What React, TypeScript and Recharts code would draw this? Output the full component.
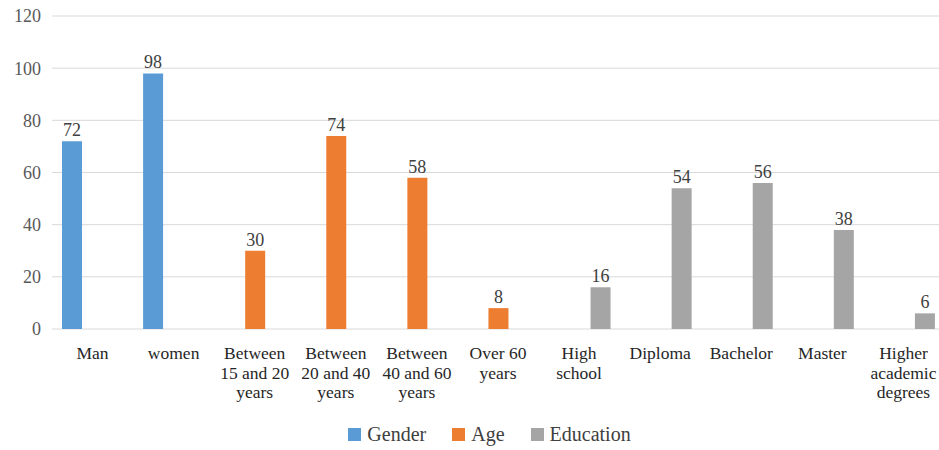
import React from 'react';
import { BarChart, Bar, XAxis, YAxis, CartesianGrid, Legend, LabelList } from 'recharts';

const categories = [
  'Man',
  'women',
  'Between\n15 and 20\nyears',
  'Between\n20 and 40\nyears',
  'Between\n40 and 60\nyears',
  'Over 60\nyears',
  'High\nschool',
  'Diploma',
  'Bachelor',
  'Master',
  'Higher\nacademic\ndegrees',
];
const gender = [72, 98, null, null, null, null, null, null, null, null, null];
const age = [null, null, 30, 74, 58, 8, null, null, null, null, null];
const education = [null, null, null, null, null, null, 16, 54, 56, 38, 6];
const yTicks = [0, 20, 40, 60, 80, 100, 120];

const series = [
  { key: 'gender', name: 'Gender', color: '#5b9bd5' },
  { key: 'age', name: 'Age', color: '#ed7d31' },
  { key: 'education', name: 'Education', color: '#a5a5a5' },
];

const data = categories.map((c, i) => ({
  category: c,
  gender: gender[i],
  age: age[i],
  education: education[i],
}));

const FONT = 'Liberation Serif, Times New Roman, serif';

const CategoryTick = (props: any) => {
  const { x, y, payload } = props;
  const lines = String(payload.value).split('\n');
  return (
    <g transform={`translate(${x},${y})`}>
      <text textAnchor="middle" fill="#262626" style={{ fontFamily: FONT, fontSize: 17.5 }}>
        {lines.map((l, i) => (
          <tspan key={i} x={0} dy={i === 0 ? 28 : 19.5}>
            {l}
          </tspan>
        ))}
      </text>
    </g>
  );
};

const LegendContent = () => (
  <div
    style={{
      height: 31,
      display: 'flex',
      justifyContent: 'center',
      alignItems: 'center',
      paddingLeft: 35,
      fontFamily: FONT,
      fontSize: 20,
      color: '#404040',
    }}
  >
    {series.map((s) => (
      <div key={s.key} style={{ display: 'flex', alignItems: 'center', margin: '0 13px' }}>
        <span style={{ width: 13, height: 13, background: s.color, marginRight: 6, display: 'inline-block' }} />
        <span>{s.name}</span>
      </div>
    ))}
  </div>
);

export default function App() {
  return (
    <div
      style={{
        position: 'absolute',
        left: 0,
        top: 0,
        width: 939,
        height: 450,
        overflow: 'hidden',
        background: '#fff',
        fontFamily: FONT,
      }}
    >
      <BarChart
        width={944}
        height={450}
        data={data}
        margin={{ top: 16, right: 0, left: 0, bottom: 0 }}
        barSize={20}
        barGap={1}
        style={{ fontFamily: FONT }}
      >
        <CartesianGrid vertical={false} stroke="#d9d9d9" strokeWidth={1} />
        <XAxis
          dataKey="category"
          axisLine={false}
          tickLine={false}
          tickSize={0}
          interval={0}
          height={90}
          tick={<CategoryTick />}
        />
        <YAxis
          width={52}
          domain={[0, 120]}
          ticks={yTicks}
          axisLine={false}
          tickLine={false}
          tickSize={0}
          tickMargin={11}
          tick={{ fill: '#595959', fontSize: 18, style: { fontFamily: FONT } }}
        />
        <Legend verticalAlign="bottom" content={<LegendContent />} wrapperStyle={{ left: 0, width: 944 }} />
        {series.map((s) => (
          <Bar key={s.key} dataKey={s.key} name={s.name} fill={s.color} isAnimationActive={false}>
            <LabelList
              dataKey={s.key}
              position="top"
              offset={5}
              fill="#404040"
              fontSize={18}
              style={{ fontFamily: FONT }}
            />
          </Bar>
        ))}
      </BarChart>
    </div>
  );
}
